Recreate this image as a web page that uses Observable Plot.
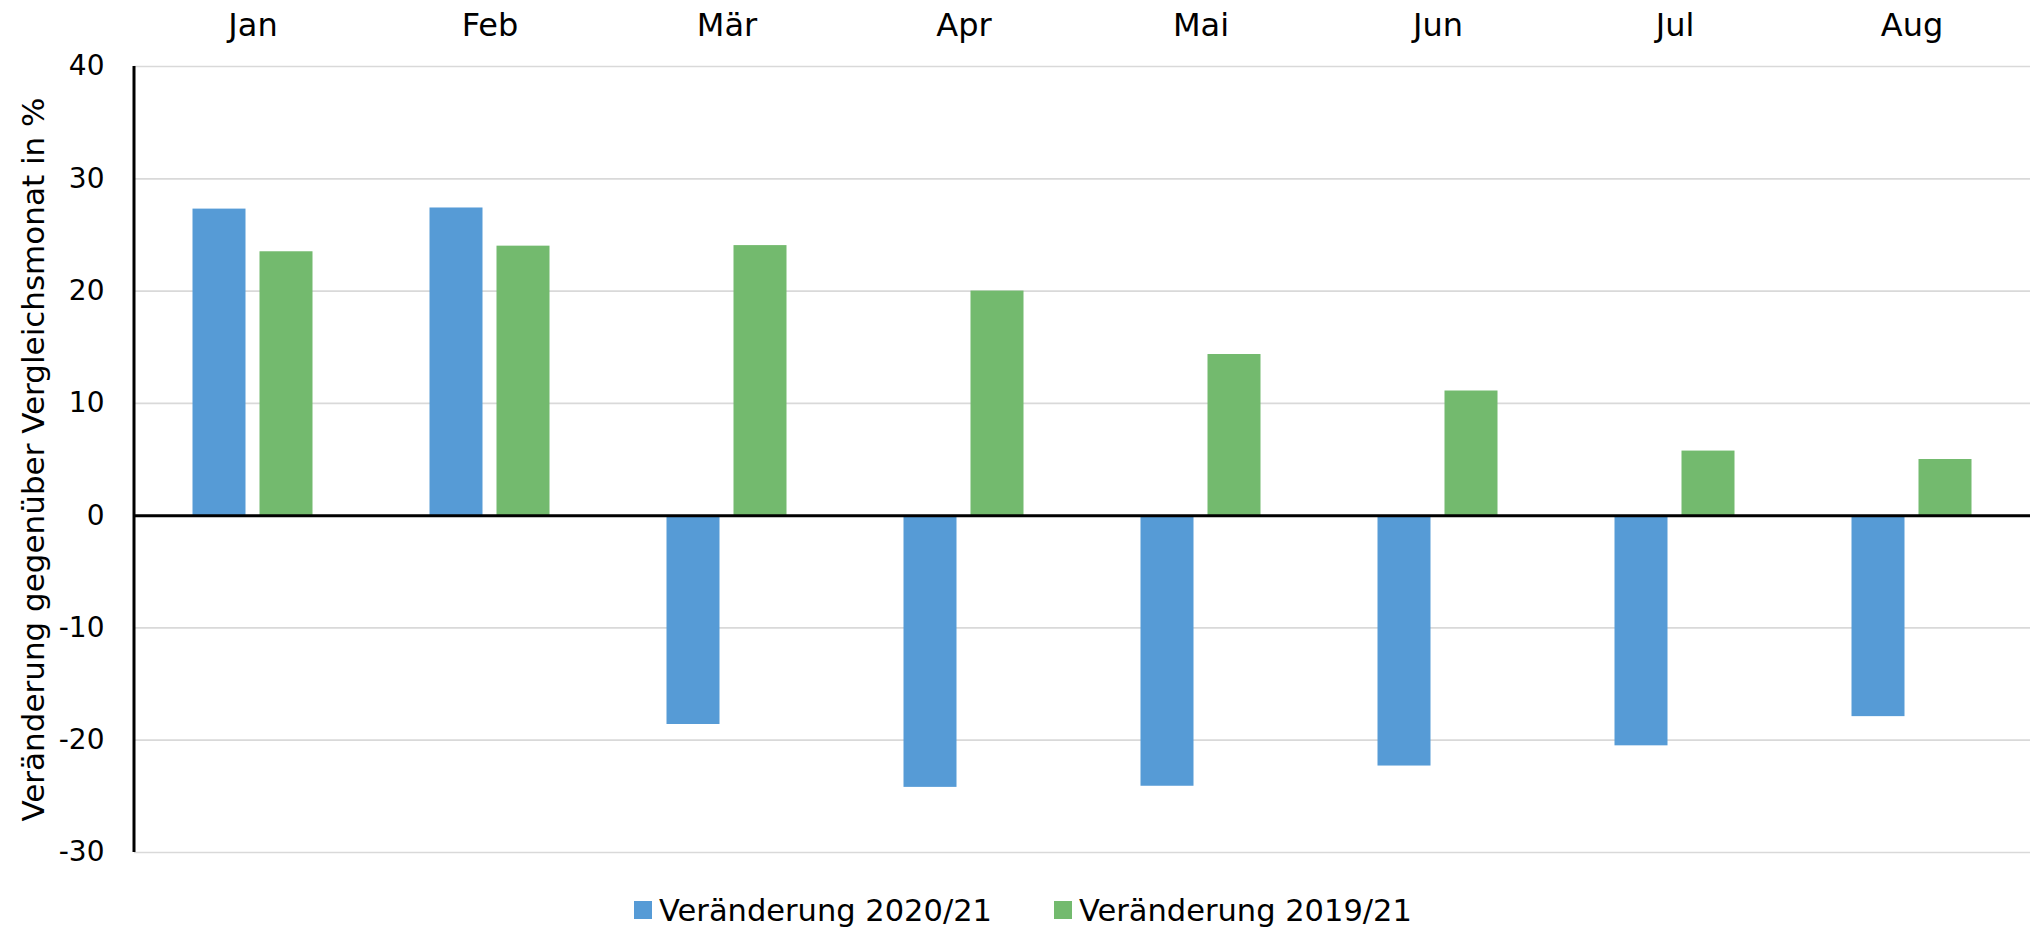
<!DOCTYPE html>
<html>
<head>
<meta charset="utf-8">
<script src="https://cdn.jsdelivr.net/npm/d3@7"></script>
<script src="https://cdn.jsdelivr.net/npm/@observablehq/plot@0.6"></script>
<style>
  html, body { margin: 0; padding: 0; background: #fff; }
  #chart svg { display: block; }
  #legend {
    display: flex; justify-content: center; align-items: center;
    height: 40px; margin-top: 10px; padding-left: 16px;
    font-family: "DejaVu Sans", sans-serif; font-size: 30.5px; color: #000;
  }
  .item { display: flex; align-items: center; margin: 0 31px; }
  .sw { width: 18px; height: 18px; margin-right: 7px; }
</style>
</head>
<body>
<div id="chart"></div>
<div id="legend"></div>
<script>
const months = ["Jan", "Feb", "Mär", "Apr", "Mai", "Jun", "Jul", "Aug"];
const change2020_21 = [27.3, 27.4, -18.6, -24.2, -24.1, -22.3, -20.5, -17.9];
const change2019_21 = [23.5, 24.0, 24.05, 20.0, 14.35, 11.1, 5.75, 5.0];
const seriesNames = ["Veränderung 2020/21", "Veränderung 2019/21"];
const seriesColors = ["#569BD6", "#73BA6E"];
const yTicks = [-30, -20, -10, 0, 10, 20, 30, 40];
const yTitle = "Veränderung gegenüber Vergleichsmonat in %";

const d1 = months.map((m, i) => ({month: m, value: change2020_21[i]}));
const d2 = months.map((m, i) => ({month: m, value: change2019_21[i]}));

const plot = Plot.plot({
  width: 2030,
  height: 880,
  marginLeft: 134,
  marginRight: 0,
  marginTop: 66,
  marginBottom: 28,
  style: {fontFamily: "DejaVu Sans, sans-serif", fontSize: "28px", color: "#000", background: "#fff"},
  x: {domain: months, paddingInner: 0.776, paddingOuter: 0.388, axis: "top", tickSize: 0, tickPadding: 31, label: null},
  y: {domain: [-30, 40], ticks: yTicks, tickSize: 0, tickPadding: 30, label: null, tickFormat: d => String(d)},
  marks: [
    Plot.ruleY(yTicks, {stroke: "#d9d9d9", strokeWidth: 1.7}),
    Plot.barY(d1, {x: "month", y: "value", fill: seriesColors[0], dx: -33.5}),
    Plot.barY(d2, {x: "month", y: "value", fill: seriesColors[1], dx: 33.5}),
    Plot.ruleY([0], {stroke: "#000", strokeWidth: 3}),
    Plot.text([yTitle], {frameAnchor: "left", dx: -100, rotate: -90, textAnchor: "middle", text: d => d, fontSize: 31, fill: "#000"})
  ]
});

// left axis line drawn from the plot's own scales
const ys = plot.scale("y");
const xs = plot.scale("x");
d3.select(plot).append("line")
  .attr("x1", xs.range[0]).attr("x2", xs.range[0])
  .attr("y1", ys.apply(yTicks[yTicks.length - 1])).attr("y2", ys.apply(yTicks[0]))
  .attr("stroke", "#000").attr("stroke-width", 3);

// slightly larger month labels, as in the reference
d3.select(plot).selectAll("g[aria-label='x-axis'] text, g[aria-label='x-axis tick label'] text").attr("font-size", 32);

document.getElementById("chart").appendChild(plot);

const legend = document.getElementById("legend");
seriesNames.forEach((name, i) => {
  const item = document.createElement("div");
  item.className = "item";
  const sw = document.createElement("div");
  sw.className = "sw";
  sw.style.background = seriesColors[i];
  const t = document.createElement("span");
  t.textContent = name;
  item.appendChild(sw);
  item.appendChild(t);
  legend.appendChild(item);
});
</script>
</body>
</html>
